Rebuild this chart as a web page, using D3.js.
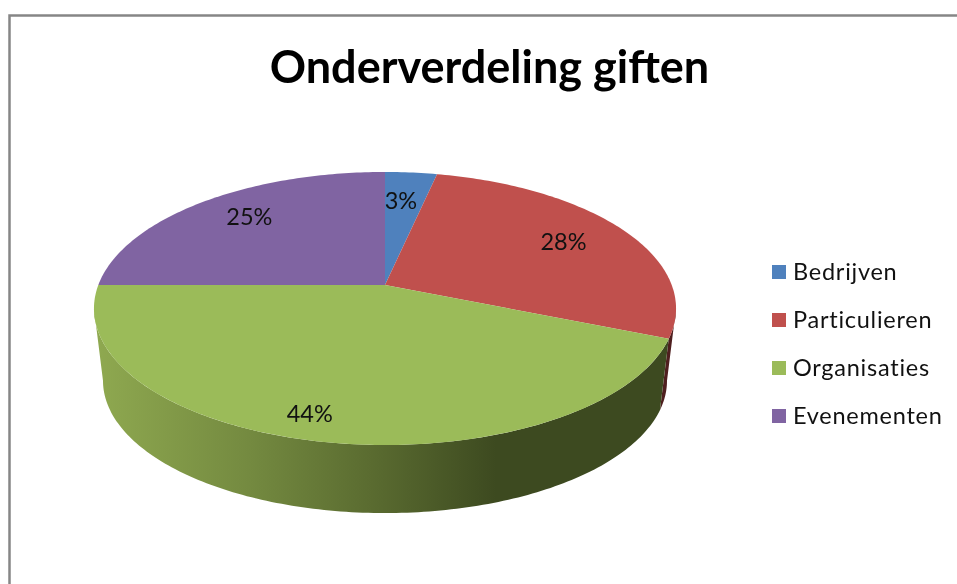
<!DOCTYPE html>
<html>
<head>
<meta charset="utf-8">
<script src="https://cdn.jsdelivr.net/npm/d3@7"></script>
<style>
html, body { margin: 0; padding: 0; background: #fff; }
svg { display: block; filter: blur(0.45px); }
text { font-family: Lato, "Open Sans", sans-serif; fill: #111; }
</style>
</head>
<body>
<svg id="mainSvg" width="957" height="584"></svg>
<script>
var categories = ["Bedrijven", "Particulieren", "Organisaties", "Evenementen"];
var shares = [3.4, 27.8, 43.8, 25];
var colors = ["#4f81bd", "#c0504d", "#9bbb59", "#8064a2"];
var wallColors = ["#2c4260", "#4f1f1f", "url(#greenWall)", "#40304f"];

var svg = d3.select("#mainSvg");

// chart frame, runs off the right and bottom of the picture
svg.append("rect")
	.attr("x", 9.5).attr("y", 15.5)
	.attr("width", 1000).attr("height", 700)
	.attr("fill", "#fff")
	.attr("stroke", "#868686")
	.attr("stroke-width", 2.5);

svg.append("text")
	.attr("x", 489.5).attr("y", 83)
	.attr("text-anchor", "middle")
	.style("font-size", "45px")
	.style("font-weight", "700")
	.style("fill", "#000")
	.text("Onderverdeling giften");

// the disc is a circle seen in perspective, so the apex is not the ellipse centre
var cx = 385, k = 0.172;
var topFace = { apexY: 285, sx: 286.7, sy: 132.5 };
var bottomFace = { apexY: 358, sx: 277.8, sy: 128.4 };

// only this part of the rim faces the viewer
var rimStart = Math.PI - Math.acos(k), rimEnd = Math.PI + Math.acos(k);

function project(face, a, r) {
	var u = Math.sin(a) * r, v = -Math.cos(a) * r;
	var w = 1 - k * v;
	return [cx + face.sx * u / w, face.apexY + face.sy * v / w];
}

function arcPoints(face, start, end) {
	var n = Math.max(2, Math.ceil((end - start) * 60));
	return d3.range(n + 1).map(function(i) {
		return project(face, start + (end - start) * i / n, 1);
	});
}

var pie = d3.pie().sort(null).value(function(d) { return d; });
var slices = pie(shares);
var line = d3.line();

var grad = svg.append("defs").append("linearGradient")
	.attr("id", "greenWall")
	.attr("gradientUnits", "userSpaceOnUse")
	.attr("x1", 94).attr("x2", 668).attr("y1", 0).attr("y2", 0);
[[0, "#8fa950"], [0.27, "#748a40"], [0.5, "#58692f"], [0.7, "#3d4a20"], [1, "#3d4a20"]].forEach(function(s) {
	grad.append("stop").attr("offset", s[0]).attr("stop-color", s[1]);
});

// side wall first, top face goes over it
var pieGroup = svg.append("g").attr("class", "pieGroup");

pieGroup.selectAll(".wall")
	.data(slices)
	.enter().append("path")
	.attr("class", "wall")
	.attr("fill", function(d, i) { return wallColors[i]; })
	.attr("d", function(d) {
		var start = Math.max(d.startAngle, rimStart), end = Math.min(d.endAngle, rimEnd);
		if (end <= start) return null;
		return line(arcPoints(topFace, start, end).concat(arcPoints(bottomFace, start, end).reverse())) + "Z";
	});

pieGroup.selectAll(".slice")
	.data(slices)
	.enter().append("path")
	.attr("class", "slice")
	.attr("fill", function(d, i) { return colors[i]; })
	.attr("d", function(d) {
		return line([[cx, topFace.apexY]].concat(arcPoints(topFace, d.startAngle, d.endAngle))) + "Z";
	});

// how far out along the slice each percentage sits, and a small turn from its middle
var labelRadius = [0.72, 0.745, 0.86, 0.77];
var labelTurn = [-0.02, 0, 0.07, 0.045];

pieGroup.selectAll(".pct")
	.data(slices)
	.enter().append("text")
	.attr("class", "pct")
	.attr("text-anchor", "middle")
	.attr("dy", "0.35em")
	.style("font-size", "23.5px")
	.attr("transform", function(d, i) {
		var a = (d.startAngle + d.endAngle) / 2 + labelTurn[i];
		return "translate(" + project(topFace, a, labelRadius[i]) + ")";
	})
	.text(function(d) { return Math.round(d.value) + "%"; });

// legend
var legendY = d3.scalePoint().domain(categories).range([272, 416]);

var legend = svg.selectAll(".legendItem")
	.data(categories)
	.enter().append("g")
	.attr("class", "legendItem")
	.attr("transform", function(d) { return "translate(772," + legendY(d) + ")"; });

legend.append("rect")
	.attr("y", -7).attr("width", 14).attr("height", 14)
	.attr("fill", function(d, i) { return colors[i]; });

legend.append("text")
	.attr("x", 21).attr("dy", "0.35em")
	.style("font-size", "23.5px")
	.style("letter-spacing", "0.75px")
	.text(function(d) { return d; });
</script>
</body>
</html>
